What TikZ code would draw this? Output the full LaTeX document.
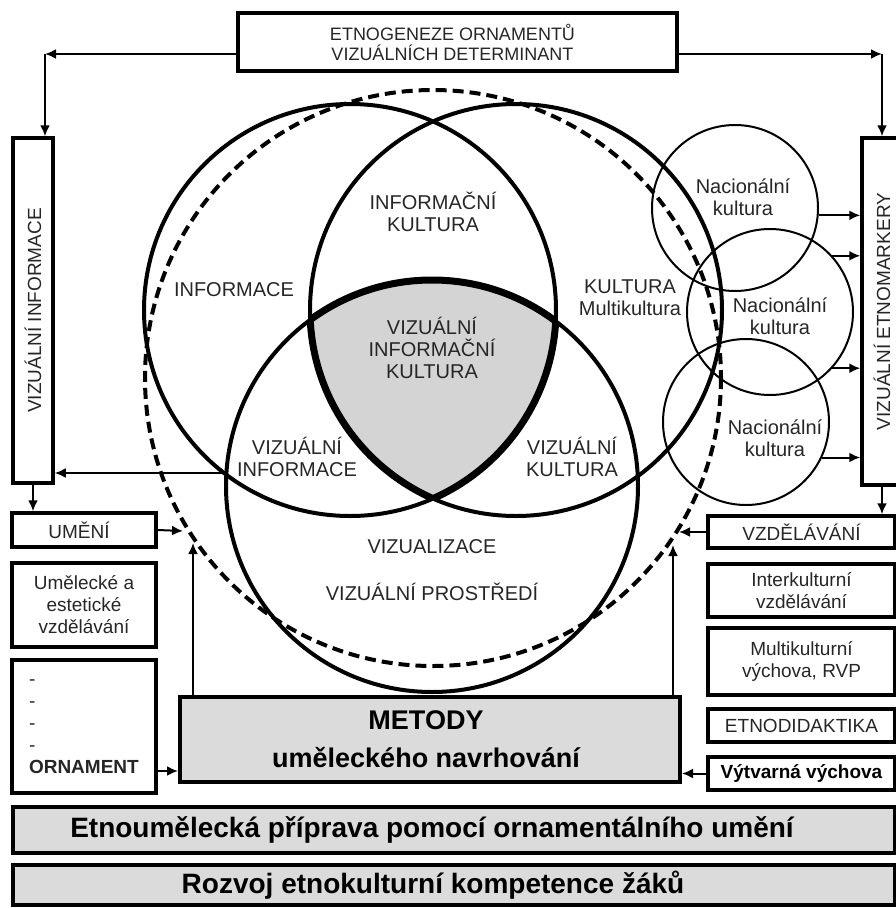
\documentclass[tikz,border=0pt]{standalone}
\usepackage{fontspec}
\setmainfont{Liberation Sans}
\usetikzlibrary{arrows.meta}
\tikzset{
  box/.style={draw,line width=3.5pt,inner sep=0pt,align=center,text=black!85,font=\fontsize{19}{22}\selectfont},
  graybox/.style={box,fill=black!14,line width=4pt,text=black,font=\bfseries\fontsize{27}{32}\selectfont},
  lbl/.style={align=center,text=black!85,font=\fontsize{20}{22}\selectfont},
  arr/.style={line width=2pt,-{Latex[length=11pt,width=10pt]}},
  ring/.style={line width=4pt},
  nac/.style={circle,draw,line width=2pt,minimum size=166pt,inner sep=0pt}
}

\begin{document}
\begin{tikzpicture}[x=1pt,y=-1pt]
  \useasboundingbox (0,0) rectangle (896,908);
  \coordinate (cA) at (350,310);
  \coordinate (cB) at (516,310);
  \coordinate (cC) at (432,486);
  \begin{scope}
    \clip (cA) circle (206); \clip (cB) circle (206);
    \fill[black!17] (cC) circle (206);
    \draw[line width=7pt] (cC) circle (206);
  \end{scope}
  \begin{scope}
    \clip (cA) circle (206); \clip (cC) circle (206);
    \draw[line width=7pt] (cB) circle (206);
  \end{scope}
  \begin{scope}
    \clip (cB) circle (206); \clip (cC) circle (206);
    \draw[line width=7pt] (cA) circle (206);
  \end{scope}
  \foreach \c in {cA,cB,cC}
    \draw[ring] (\c) circle (206);
  \draw[ring,dash pattern=on 11pt off 6pt] (433,378) circle (288);

  \node[box,minimum width=439,minimum height=58,font=\fontsize{18}{20}\selectfont] (etnogen) at (457.5,42)
    {ETNOGENEZE ORNAMENTŮ\hspace*{10pt}\\VIZUÁLNÍCH DETERMINANT\hspace*{10pt}};
  \node[box,minimum width=40,minimum height=345] (vinfo) at (33,310.5) {\rotatebox{90}{VIZUÁLNÍ INFORMACE}};
  \node[box,minimum width=40,minimum height=347] (etno) at (882,311.5) {\rotatebox{90}{VIZUÁLNÍ ETNOMARKERY}};

  \node[lbl] (infkult) at (433,212) {INFORMAČNÍ\\KULTURA};
  \node[lbl] (inform) at (234,290) {INFORMACE};
  \node[lbl] (kult) at (630,298) {KULTURA\\Multikultura};
  \node[lbl] (vik) at (432,348) {VIZUÁLNÍ\\INFORMAČNÍ\\KULTURA};
  \node[lbl] (vizinf) at (297,457) {VIZUÁLNÍ\\INFORMACE};
  \node[lbl] (vizkult) at (572,457) {VIZUÁLNÍ\\KULTURA};
  \node[lbl] (vizual) at (432,547) {VIZUALIZACE};
  \node[lbl] (prostr) at (432,592) {VIZUÁLNÍ PROSTŘEDÍ};

  \foreach \name/\x/\y/\tx/\ty in {n1/735/208/743/197,n2/770/312/780/316,n3/746/422/775/438} {
    \node[nac] (\name) at (\x,\y) {};
    \node[lbl] (t\name) at (\tx,\ty) {Nacionální\\kultura};
  }

  \node[box,minimum width=144,minimum height=34] (umeni) at (84,530) {UMĚNÍ\hspace*{10pt}};
  \node[box,minimum width=144,minimum height=84] (estet) at (84,605) {Umělecké a\\estetické\\vzdělávání};
  \node[box,minimum width=144,minimum height=133,text width=110,align=left] (orn) at (84,726.5)
    {-\\-\\-\\-\\\textbf{ORNAMENT}};
  \node[graybox,minimum width=500,minimum height=85,font=\bfseries\fontsize{27}{38}\selectfont] (metody) at (430,739.5)
    {METODY\hspace*{8pt}\\uměleckého navrhování\hspace*{8pt}};

  \node[box,minimum width=187,minimum height=32] (vzdel) at (801.5,532) {VZDĚLÁVÁNÍ};
  \node[box,minimum width=187,minimum height=53] (interk) at (801.5,590.5) {Interkulturní\\vzdělávání};
  \node[box,minimum width=187,minimum height=67] (multik) at (801.5,661.5) {Multikulturní\\výchova, RVP};
  \node[box,minimum width=187,minimum height=33] (etnodid) at (801.5,725.5) {ETNODIDAKTIKA};
  \node[box,minimum width=187,minimum height=33,text=black,font=\bfseries\fontsize{19}{22}\selectfont] (vytv) at (801.5,773.5) {Výtvarná výchova};

  \node[graybox,minimum width=882,minimum height=46,font=\bfseries\fontsize{28}{32}\selectfont] (priprava) at (454,830)
    {Etnoumělecká příprava pomocí ornamentálního umění\hspace*{44pt}};
  \node[graybox,minimum width=882,minimum height=40,font=\bfseries\fontsize{28}{32}\selectfont] (rozvoj) at (454,885)
    {Rozvoj etnokulturní kompetence žáků\hspace*{42pt}};

  \coordinate (tl) at (45,54);
  \coordinate (tr) at (882,54);
  \coordinate (ac) at (223,473);
  \coordinate (dl) at (183,531);
  \coordinate (dr) at (679,532);
  \coordinate (ul) at (193,543);
  \coordinate (ur) at (673,545);
  \coordinate (om) at (156,771);
  \draw[arr] ([yshift=-12pt]etnogen.west) -- (tl);
  \draw[arr] (tl) -- (tl |- vinfo.north);
  \draw[arr] ([yshift=-12pt]etnogen.east) -- (tr);
  \draw[arr] (tr) -- (etno.north);
  \draw[arr] (ac) -- (ac -| vinfo.east);
  \draw[arr] (vinfo.south) -- (vinfo.south |- umeni.north);
  \draw[arr] (umeni.east) -- (dl);
  \draw[arr] (ul |- metody.north) -- (ul);
  \draw[arr] (ur |- metody.north) -- (ur);
  \draw[arr] (om) -- (om -| metody.west);
  \draw[arr] (vytv.west) -- (vytv.west -| metody.east);
  \draw[arr] (etno.south) -- (etno.south |- vzdel.north);
  \draw[arr] (vzdel.west) -- (dr);
  \foreach \a in {n1.-5,n2.42,n2.-42,n3.-25}
    \draw[arr] (\a) -- (\a -| etno.west);
\end{tikzpicture}
\end{document}
